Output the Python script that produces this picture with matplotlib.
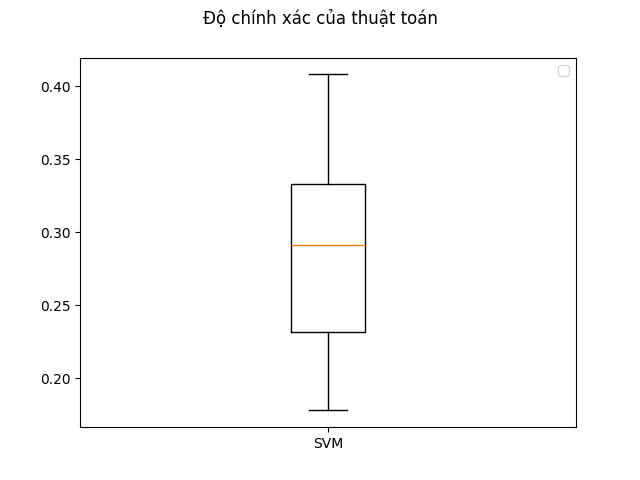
import matplotlib
matplotlib.use("Agg")
from matplotlib import pyplot as plt

labels = ["SVM"]
# accuracy values (min, q1, median, q3, max)
svm_scores = [0.178, 0.2315, 0.291, 0.333, 0.408]

fig = plt.figure(figsize=(6.4, 4.8), dpi=100)
plt.suptitle("Độ chính xác của thuật toán")
ax = fig.add_subplot(111)
ax.boxplot([svm_scores])
ax.set_xticks([1])
ax.set_xticklabels(labels)
ax.legend(handles=[])
plt.savefig("out.png")
